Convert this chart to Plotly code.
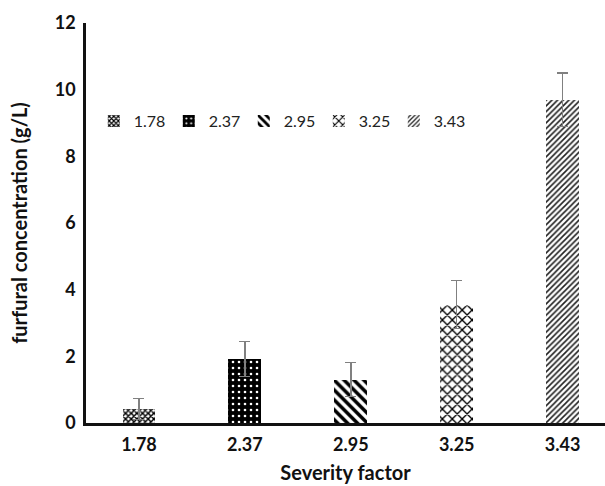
import plotly.graph_objects as go

# Severity factors and measured furfural concentrations (g/L)
severity = ["1.78", "2.37", "2.95", "3.25", "3.43"]
furfural = [0.42, 1.92, 1.30, 3.55, 9.70]
furfural_err = [0.32, 0.52, 0.51, 0.72, 0.80]

# Fill pattern per bar
patterns = [
    dict(shape="x", bgcolor="white", fgcolor="black", size=4, solidity=0.6, fgopacity=1),
    dict(shape=".", bgcolor="black", fgcolor="white", size=6, solidity=0.15, fgopacity=1),
    dict(shape="\\", bgcolor="white", fgcolor="black", size=7, solidity=0.5, fgopacity=1),
    dict(shape="x", bgcolor="white", fgcolor="black", size=7, solidity=0.35, fgopacity=1),
    dict(shape="/", bgcolor="white", fgcolor="#222222", size=4, solidity=0.4, fgopacity=1),
]

fig = go.Figure()
for i, name in enumerate(severity):
    fig.add_trace(go.Bar(
        x=[i], y=[furfural[i]], name=name, width=0.31,
        marker=dict(color="white", line=dict(width=0), pattern=patterns[i]),
        error_y=dict(type="data", array=[furfural_err[i]], color="#808080",
                     thickness=1.5, width=5.5),
    ))

fig.update_layout(
    width=605, height=486,
    margin=dict(l=86, r=0, t=23, b=63),
    plot_bgcolor="white", paper_bgcolor="white",
    font=dict(family="Lato, Open Sans, sans-serif", color="#111111"),
    showlegend=True,
    legend=dict(orientation="h", x=0.015, y=0.755, xanchor="left", yanchor="middle",
                font=dict(size=16, color="#222222"),
                entrywidth=30, entrywidthmode="pixels",
                bgcolor="rgba(0,0,0,0)"),
    xaxis=dict(
        range=[-0.5, 4.4], tickmode="array", tickvals=list(range(5)), ticktext=severity,
        showline=True, linecolor="#111111", linewidth=2.5, showgrid=False, ticks="",
        zeroline=False, tickfont=dict(size=18, weight="bold"), ticklabelstandoff=4,
        title=dict(text="<b>Severity factor</b>", font=dict(size=20), standoff=12),
    ),
    yaxis=dict(
        range=[0, 12], dtick=2, showline=True, linecolor="#111111", linewidth=2.5,
        showgrid=False, ticks="", zeroline=False,
        tickfont=dict(size=18, weight="bold"), ticklabelstandoff=4,
        title=dict(text="<b>furfural concentration (g/L)</b>", font=dict(size=20), standoff=22),
    ),
    bargap=0,
)

fig.write_html("out.html")
